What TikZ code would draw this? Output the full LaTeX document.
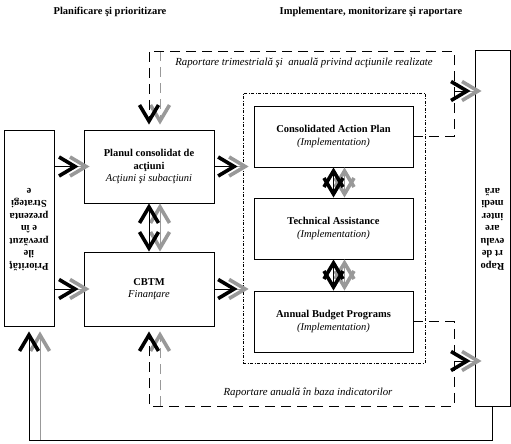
\documentclass[tikz,border=0pt]{standalone}
\usepackage{fontspec}
\usepackage{graphicx}
\setmainfont{Liberation Serif}
\usetikzlibrary{arrows.meta}
\definecolor{shade}{gray}{0.6}
\newcommand{\dfont}{\fontsize{10.5}{12.5}\selectfont}
\newcommand{\upside}[1]{\rotatebox{180}{\begin{tabular}{@{}c@{}}#1\end{tabular}}}
\tikzset{
  box/.style={draw, line width=0.9pt, minimum width=130pt, align=center, font=\dfont},
  side/.style={draw, line width=0.9pt, inner sep=0pt, font=\dfont\bfseries},
  impl/.style={draw, line width=0.7pt, dash pattern=on 3pt off 1.5pt on 1pt off 1.5pt},
  title/.style={font=\dfont\bfseries},
  note/.style={font=\fontsize{10.8}{12.5}\selectfont\itshape},
  loopline/.style={line width=0.9pt, dash pattern=on 10pt off 6pt},
  shadow/.style={draw=shade, transform canvas={xshift=11pt}}
}
\begin{document}
\begin{tikzpicture}[x=1pt, y=-1pt, line width=0.8pt,
  >={Straight Barb[length=16pt,width=19pt,line width=3.6pt]}]
        \useasboundingbox (0,0) rectangle (511,444);

        \node[title] (plantitle) at (110,12) {Planificare şi prioritizare};
        \node[title] (impltitle) at (371,12) {Implementare, monitorizare şi raportare};

        \node[side, minimum width=50pt, minimum height=196pt] (prio) at (29,228) {\upside{Priorităţ\\ile\\prevăzut\\e în\\prezenta\\Strategi\\e}};
        \node[side, minimum width=35pt, minimum height=356pt] (rap) at (492.5,228) {\upside{Rapo\\rt de\\evalu\\are\\inter\\medi\\ară}};

        \node[box, minimum height=73pt] (plan) at (149,166.5) {\textbf{Planul consolidat de}\\\textbf{acţiuni}\\\textit{Acţiuni şi subacţiuni}};
        \node[box, minimum height=74pt] (cbtm) at (149,289) {\textbf{CBTM}\\\textit{Finanţare}};

        \node[impl, minimum width=182pt, minimum height=270pt] (impl) at (334,228) {};
        \node[box, minimum width=159pt, minimum height=61pt] (cap) at (333.5,136.5) {\textbf{Consolidated Action Plan}\\\textit{(Implementation)}};
        \node[box, minimum width=159pt, minimum height=61pt] (ta) at (333.5,228.5) {\textbf{Technical Assistance}\\\textit{(Implementation)}};
        \node[box, minimum width=159pt, minimum height=61pt] (abp) at (333.5,321.5) {\textbf{Annual Budget Programs}\\\textit{(Implementation)}};

        \node[note] (qlabel) at (304,63) {Raportare trimestrială şi \ anuală privind acţiunile realizate};
        \node[note] (alabel) at (308,393) {Raportare anuală în baza indicatorilor};

        \coordinate (qtr) at (454,51);
        \coordinate (qin) at (454,91);
        \coordinate (ann) at (454,406);
        \coordinate (ain) at (454,361);
        \coordinate (back) at (0,440);

        \draw[shadow, ->, shorten >=5pt] (prio.east |- plan) to (plan.west);
        \draw[shadow, ->, shorten >=5pt] (prio.east |- cbtm) to (cbtm.west);
        \draw[shadow, ->, shorten >=5pt] (plan.east) to (plan.east -| impl.west);
        \draw[shadow, ->, shorten >=5pt] (cbtm.east) to (cbtm.east -| impl.west);
        \draw[shadow, <->] (plan) to (cbtm);
        \draw[shadow, <->] (cap) to (ta);
        \draw[shadow, <->] (ta) to (abp);
        \draw[shadow, loopline, ->, shorten >=5pt] (plan.north |- qtr) to (plan.north);
        \draw[shadow, loopline, ->, shorten >=5pt] (cbtm.south |- ann) to (cbtm.south);
        \draw[shadow, ->, shorten >=4pt] (qin) to (qin -| rap.west);
        \draw[shadow, ->, shorten >=4pt] (ain) to (ain -| rap.west);
        \draw[shadow, ->, shorten >=5pt] (back -| prio.south) to (prio.south);

        \draw[->, shorten >=5pt] (prio.east |- plan) to (plan.west);
        \draw[->, shorten >=5pt] (prio.east |- cbtm) to (cbtm.west);
        \draw[->, shorten >=5pt] (plan.east) to (plan.east -| impl.west);
        \draw[->, shorten >=5pt] (cbtm.east) to (cbtm.east -| impl.west);
        \draw[<->] (plan) to (cbtm);
        \draw[<->] (cap) to (ta);
        \draw[<->] (ta) to (abp);
        \draw[loopline, ->, shorten >=5pt] (cap.east) -| (qtr) -| (plan.north);
        \draw[loopline, ->, shorten >=5pt] (abp.east) -| (ann) -| (cbtm.south);
        \draw[->, shorten >=4pt] (qin) to (qin -| rap.west);
        \draw[->, shorten >=4pt] (ain) to (ain -| rap.west);
        \draw[->, shorten >=5pt] (rap.south) |- (back -| prio.south) to (prio.south);

      \end{tikzpicture}
\end{document}
